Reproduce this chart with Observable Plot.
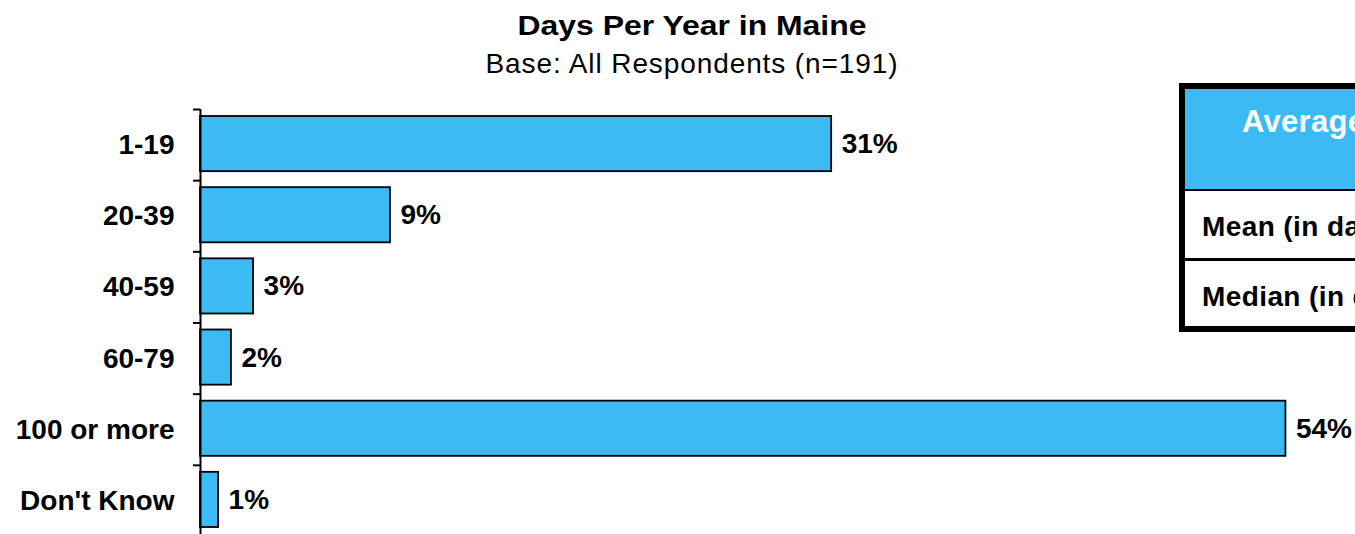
<!DOCTYPE html>
<html><head><meta charset="utf-8">
<script src="https://cdn.jsdelivr.net/npm/d3@7"></script>
<script src="https://cdn.jsdelivr.net/npm/@observablehq/plot@0.6"></script>
<style>
html,body{margin:0;padding:0;background:#fff;overflow:hidden;width:1355px;height:534px;}
#wrap{position:relative;width:1355px;height:534px;overflow:hidden;font-family:"Liberation Sans",Arial,sans-serif;color:#000;}
.title{position:absolute;left:0;width:1384px;text-align:center;white-space:nowrap;}
#t1{top:12px;font-size:28px;font-weight:bold;line-height:28px;transform:scaleX(1.14);transform-origin:692px 0;}
#t2{top:50px;font-size:28px;line-height:28px;letter-spacing:0.9px;}
#chart{position:absolute;left:0;top:100px;}
#chart svg{display:block;}
.box{position:absolute;box-sizing:border-box;}
.tt{position:absolute;white-space:nowrap;font-weight:bold;}
</style></head>
<body>
<div id="wrap">
  <div id="t1" class="title">Days Per Year in Maine</div>
  <div id="t2" class="title">Base: All Respondents (n=191)</div>
  <div id="chart"></div>
  <div class="box" style="left:1179px;top:83px;width:420px;height:249px;border:6px solid #000;background:#fff;"></div>
  <div class="box" style="left:1185px;top:89px;width:420px;height:102px;background:#3BBAF3;border-bottom:2px solid #000;"></div>
  <div class="box" style="left:1185px;top:258px;width:420px;height:3px;background:#000;"></div>
  <div class="tt" id="hdr" style="left:1242px;top:106px;font-size:31px;line-height:31px;color:#fff;letter-spacing:0.3px;"></div>
  <div class="tt" id="r1" style="left:1202px;top:213px;font-size:28px;line-height:28px;letter-spacing:0.4px;"></div>
  <div class="tt" id="r2" style="left:1202px;top:283px;font-size:28px;line-height:28px;letter-spacing:0.4px;"></div>
</div>
<script>
const categories = ["1-19", "20-39", "40-59", "60-79", "100 or more", "Don't Know"];
const values = [31.4, 9.45, 2.64, 1.54, 54.0, 0.9];
const valueLabels = ["31%", "9%", "3%", "2%", "54%", "1%"];
const tableHeader = "Average Days Per Year";
const tableRows = ["Mean (in days)", "Median (in days)"];

document.getElementById("hdr").textContent = tableHeader;
document.getElementById("r1").textContent = tableRows[0];
document.getElementById("r2").textContent = tableRows[1];

const data = categories.map((c, i) => ({cat: c, value: values[i], label: valueLabels[i]}));
const H = 436, MT = 9, MB = 0;
const step = (H - MT - MB) / categories.length;
const font = '"Liberation Sans", Arial, sans-serif';

const chart = Plot.plot({
  width: 1355, height: H,
  marginLeft: 200, marginRight: 0, marginTop: MT, marginBottom: MB,
  style: {fontFamily: font, fontSize: "28px", fontWeight: "bold", color: "#000", background: "transparent", overflow: "visible"},
  x: {domain: [0, 57.46], axis: null},
  y: {domain: categories, padding: 0, round: false, axis: null, label: null},
  marks: [
    Plot.barX(data, {x: "value", y: "cat", fill: "#3BBAF3", stroke: "#000", strokeWidth: 1.8, insetTop: 7, insetBottom: 9}),
    Plot.ruleX([0], {stroke: "#000", strokeWidth: 2}),
    Plot.axisY({tickSize: 7, dy: -step / 2, text: null, stroke: "#000", strokeWidth: 2, label: null}),
    Plot.axisY({tickSize: 0, tickPadding: 26, fontSize: 28, fontWeight: "bold", fill: "#000", label: null, style: {letterSpacing: "0.5px"}}),
    Plot.text(data, {x: "value", y: "cat", text: "label", dx: 10, dy: -1, textAnchor: "start", fontSize: 28, fontWeight: "bold", fill: "#000", style: {letterSpacing: "1px"}})
  ]
});
document.getElementById("chart").appendChild(chart);
</script>
</body></html>
